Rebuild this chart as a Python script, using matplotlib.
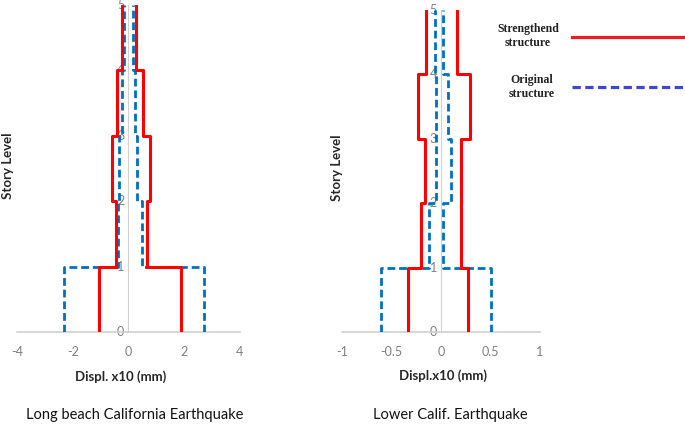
import matplotlib.pyplot as plt
import numpy as np

plt.rcParams['font.family'] = ['Lato', 'DejaVu Sans']

levels = [0, 1, 2, 3, 4, 5]

# displacement envelopes per story (0-1, 1-2, 2-3, 3-4, 4-5)
lb_str_min = [-1.06, -0.45, -0.60, -0.42, -0.23]
lb_str_max = [1.88, 0.65, 0.77, 0.51, 0.27]
lb_org_min = [-2.30, -0.37, -0.33, -0.23, -0.16]
lb_org_max = [2.71, 0.50, 0.29, 0.23, 0.15]

lc_str_min = [-0.34, -0.20, -0.16, -0.23, -0.15]
lc_str_max = [0.27, 0.20, 0.20, 0.29, 0.16]
lc_org_min = [-0.61, -0.12, -0.05, -0.05, -0.06]
lc_org_max = [0.50, 0.02, 0.10, 0.07, 0.02]

lb_xticks = [-4, -2, 0, 2, 4]
lc_xticks = [-1, -0.5, 0, 0.5, 1]

RED = '#FF0000'
BLUE = '#0070C0'
GRAY = '#7F7F7F'


def envelope(vals):
    y = np.repeat(levels, 2)[1:-1]
    x = np.repeat(vals, 2)
    return x, y


def storyPlot(ax, smin, smax, omin, omax, xticks, xlabel, labelx):
    for v in (omin, omax):
        x, y = envelope(v)
        ax.plot(x, y, color=BLUE, lw=2.0, dashes=(2.8, 1.4), zorder=3)
    for v in (smin, smax):
        x, y = envelope(v)
        ax.plot(x, y, color=RED, lw=2.2, zorder=4)
    ax.set_xlim(xticks[0], xticks[-1])
    ax.set_ylim(0, 5)
    for s in ('top', 'right'):
        ax.spines[s].set_visible(False)
    ax.spines['left'].set_position(('data', 0))
    ax.spines['bottom'].set_position(('data', 0))
    ax.spines['left'].set_color('#D0D0D0')
    ax.spines['bottom'].set_color('#D0D0D0')
    ax.spines['left'].set_linewidth(0.8)
    ax.spines['bottom'].set_linewidth(1.2)
    ax.set_xticks(xticks)
    ax.set_xticklabels([('%g' % t) for t in xticks])
    ax.set_yticks(levels)
    ax.tick_params(length=0, colors=GRAY, labelsize=9)
    ax.tick_params(axis='x', pad=10)
    ax.tick_params(axis='y', pad=3)
    for lab in ax.get_yticklabels():
        lab.set_verticalalignment('center')
    ax.set_xlabel(xlabel, fontsize=9.5, fontweight='bold', color='#262626')
    ax.xaxis.set_label_coords(labelx, -0.115)


fig = plt.figure(figsize=(6.85, 4.26), dpi=100)

ax1 = fig.add_axes([0.0248, 0.22, 0.3255, 0.7692])
storyPlot(ax1, lb_str_min, lb_str_max, lb_org_min, lb_org_max, lb_xticks, 'Displ. x10 (mm)', 0.467)
ax2 = fig.add_axes([0.4997, 0.22, 0.2886, 0.7565])
storyPlot(ax2, lc_str_min, lc_str_max, lc_org_min, lc_org_max, lc_xticks, 'Displ.x10 (mm)', 0.508)

fig.text(8 / 685, 1 - 166 / 426, 'Story Level', rotation=90, fontsize=9.5, fontweight='bold',
         color='#262626', ha='center', va='center')
fig.text(337 / 685, 1 - 168 / 426, 'Story Level', rotation=90, fontsize=9.5, fontweight='bold',
         color='#262626', ha='center', va='center')

fig.text(135 / 685, 1 - 415 / 426, 'Long beach California Earthquake', fontsize=10.5,
         color='#111111', ha='center', va='center')
fig.text(450 / 685, 1 - 415 / 426, 'Lower Calif. Earthquake', fontsize=10.5,
         color='#111111', ha='center', va='center')

# legend
fig.text(528 / 685, 1 - 36 / 426, 'Strengthend\nstructure', family='Liberation Serif',
         fontweight='bold', fontsize=8.5, ha='center', va='center', linespacing=1.3, color='#222222')
fig.text(532 / 685, 1 - 87 / 426, 'Original\nstructure', family='Liberation Serif',
         fontweight='bold', fontsize=8.5, ha='center', va='center', linespacing=1.3, color='#222222')
fig.add_artist(plt.Line2D([572 / 685, 684 / 685], [1 - 37 / 426] * 2, color='#ED1C24', lw=2.3))
fig.add_artist(plt.Line2D([572 / 685, 684 / 685], [1 - 87 / 426] * 2, color='#3F48CC', lw=2.3,
                          dashes=(2.6, 1.4)))

fig.savefig('out.png', dpi=100)
